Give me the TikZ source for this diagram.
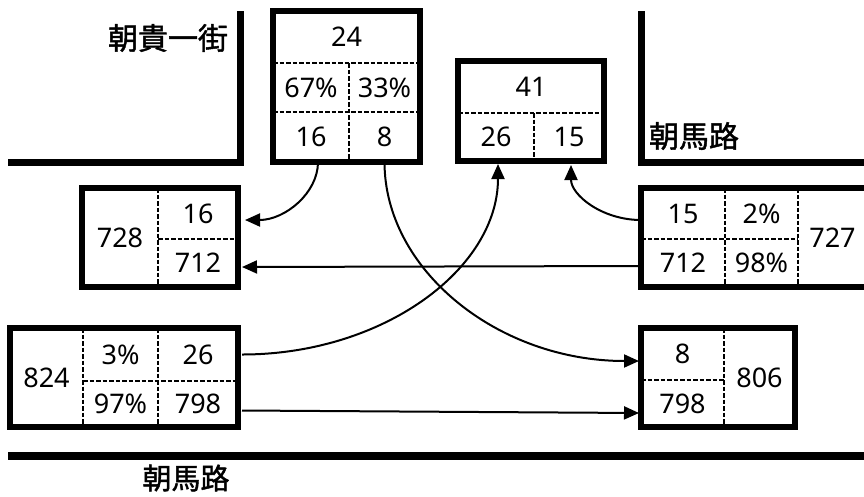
\documentclass[tikz,border=0pt]{standalone}
\usepackage{fontspec}
\setmainfont{Noto Sans}
\newfontfamily\cjk[FakeBold=1.5]{Noto Sans CJK TC}
\usetikzlibrary{arrows.meta}
\tikzset{
  cell/.style={inner sep=0pt, outer sep=0pt, font=\fontsize{27}{27}\selectfont},
  frame/.style={draw, line width=6.5pt, inner sep=0pt, outer sep=0pt, line join=miter},
  sep/.style={line width=2.5pt, dash pattern=on 4.5pt off 2pt},
  conn/.style={line width=2pt, -{Triangle[length=15pt,width=13pt]}},
  road/.style={line width=7pt, line join=miter},
  lab/.style={inner sep=0pt, font=\cjk\fontsize{30}{30}\selectfont}
}
\begin{document}
\begin{tikzpicture}[x=1pt,y=-1pt]
\useasboundingbox (0,0) rectangle (864,496);
% roads
\draw[road] (8,162.5) -- (240,162.5) -- (240,11);
\draw[road] (641,11) -- (641,162.5) -- (870,162.5);
\draw[road, line width=8pt] (8,456) -- (870,456);
\node[lab] (labA) at (168,38) {朝貴一街};
\node[lab] (labB) at (694,136) {朝馬路};
\node[lab, font=\cjk\fontsize{29}{29}\selectfont] (labC) at (186,478) {朝馬路};
% top box
\node[cell, minimum width=147pt, minimum height=52pt] (T24) at (346.5,37) {24};
\node[cell, minimum width=76pt, minimum height=49pt] (T67) at (311,87.5) {67\%};
\node[cell, minimum width=71pt, minimum height=49pt] (T33) at (384.5,87.5) {33\%};
\node[cell, minimum width=76pt, minimum height=50pt] (T16) at (311,137) {16};
\node[cell, minimum width=71pt, minimum height=50pt] (T8) at (384.5,137) {8};
% middle box
\node[cell, minimum width=146pt, minimum height=52pt] (M41) at (531,87) {41};
\node[cell, minimum width=76pt, minimum height=48pt] (M26) at (496,137) {26};
\node[cell, minimum width=70pt, minimum height=48pt] (M15) at (569,137) {15};
% left box
\node[cell, minimum width=76pt, minimum height=99pt] (L728) at (120,237.5) {728};
\node[cell, minimum width=80pt, minimum height=51pt] (L16) at (198,213.5) {16};
\node[cell, minimum width=80pt, minimum height=48pt] (L712) at (198,263) {712};
% right box
\node[cell, minimum width=84pt, minimum height=51pt] (R15) at (683,213.5) {15};
\node[cell, minimum width=73pt, minimum height=51pt] (R2) at (761.5,213.5) {2\%};
\node[cell, minimum width=84pt, minimum height=48pt] (R712) at (683,263) {712};
\node[cell, minimum width=73pt, minimum height=48pt] (R98) at (761.5,263) {98\%};
\node[cell, minimum width=69pt, minimum height=99pt] (R727) at (832.5,237.5) {727};
% bottom-left box
\node[cell, minimum width=73pt, minimum height=99pt] (B824) at (46.5,377.5) {824};
\node[cell, minimum width=75pt, minimum height=53pt] (B3) at (120.5,354.5) {3\%};
\node[cell, minimum width=80pt, minimum height=53pt] (B26) at (198,354.5) {26};
\node[cell, minimum width=75pt, minimum height=46pt] (B97) at (120.5,404) {97\%};
\node[cell, minimum width=80pt, minimum height=46pt] (B798) at (198,404) {798};
% bottom-right box
\node[cell, minimum width=83pt, minimum height=52pt] (D8) at (682.5,354) {8};
\node[cell, minimum width=83pt, minimum height=47pt] (D798) at (682.5,403.5) {798};
\node[cell, minimum width=71pt, minimum height=99pt] (D806) at (759.5,377.5) {806};
% separators
\draw[sep] (T24.south west) -- (T24.south east);
\draw[sep] (T67.south west) -- (T33.south east);
\draw[sep] (T67.north east) -- (T16.south east);
\draw[sep] (M41.south west) -- (M41.south east);
\draw[sep] (M26.north east) -- (M26.south east);
\draw[sep] (L728.north east) -- (L728.south east);
\draw[sep] (L16.south west) -- (L16.south east);
\draw[sep] (R15.north east) -- (R712.south east);
\draw[sep] (R2.north east) -- (R98.south east);
\draw[sep] (R15.south west) -- (R2.south east);
\draw[sep] (B824.north east) -- (B824.south east);
\draw[sep] (B3.north east) -- (B97.south east);
\draw[sep] (B3.south west) -- (B26.south east);
\draw[sep] (D806.north west) -- (D806.south west);
\draw[sep] (D8.south west) -- (D8.south east);
% connectors
\draw[conn] ([xshift=7pt]T16.south) .. controls +(0,31) and +(40,0) .. ([xshift=7pt,yshift=-6.5pt]L16.east);
\draw[conn] ([yshift=-3pt]R712.west) -- ([xshift=4pt,yshift=-4pt]L712.east);
\draw[conn] ([xshift=4pt]B26.east) .. controls +(141,0) and +(0,105) .. ([xshift=2pt,yshift=-3pt]M26.south);
\draw[conn] ([yshift=-6.5pt]R15.west) .. controls +(-39,0) and +(0,30) .. ([xshift=2pt,yshift=-4pt]M15.south);
\draw[conn] (T8.south) .. controls +(0,108) and +(-141,0) .. ([xshift=-2pt,yshift=-7pt]D8.west);
\draw[conn] ([xshift=4pt,yshift=-6.5pt]B798.east) -- ([xshift=-2pt,yshift=-9.5pt]D798.west);
% frames
\node[frame, minimum width=147pt, minimum height=151pt] (Tf) at (346.5,86.5) {};
\node[frame, line width=6pt, minimum width=146pt, minimum height=100pt] (Mf) at (531,111) {};
\node[frame, line width=6pt, minimum width=156pt, minimum height=99pt] (Lf) at (160,237.5) {};
\node[frame, line width=6pt, minimum width=226pt, minimum height=99pt] (Rf) at (754,237.5) {};
\node[frame, line width=6pt, minimum width=228pt, minimum height=99pt] (Bf) at (124,377.5) {};
\node[frame, line width=6pt, minimum width=154pt, minimum height=99pt] (Df) at (718,377.5) {};
\end{tikzpicture}
\end{document}
